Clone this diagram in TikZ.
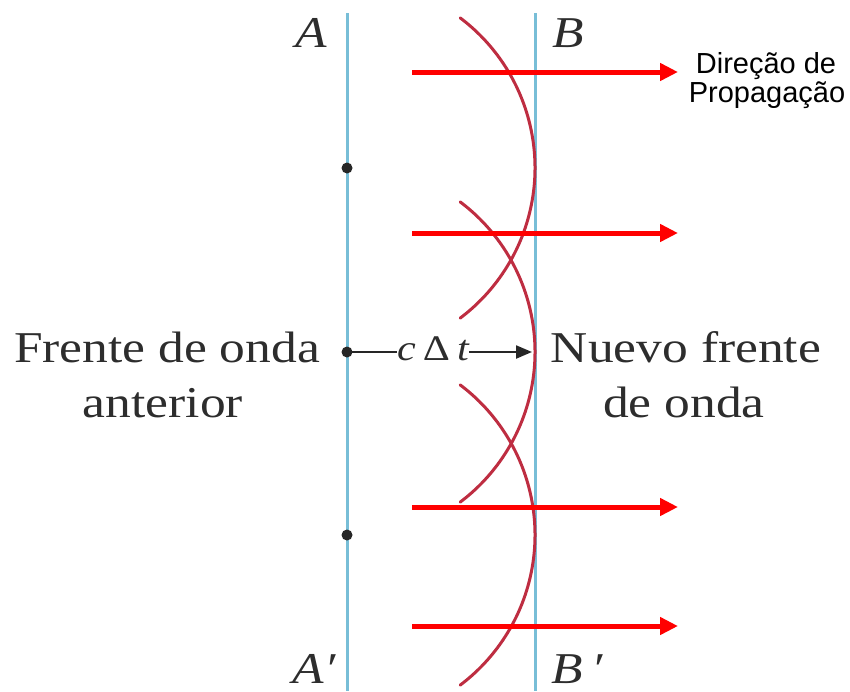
\documentclass[tikz,border=0pt]{standalone}
\usepackage{fontspec}
\usepackage{graphicx}
\setmainfont{Liberation Serif}
\newfontfamily\labsans{Liberation Sans}
\usetikzlibrary{arrows.meta}
\definecolor{frontblue}{RGB}{120,190,215}
\definecolor{arcred}{RGB}{190,45,65}
\definecolor{txtgray}{RGB}{45,45,45}
\newcommand{\widetxt}[1]{\scalebox{1.17}[1]{#1}}
\tikzset{
  front/.style={draw=frontblue,line width=3pt},
  wavelet/.style={draw=arcred,line width=3pt,line cap=round},
  proparrow/.style={draw=red,line width=5pt,-{Triangle[length=18pt,width=17pt]}},
  serif/.style={inner sep=0pt,anchor=base,text=txtgray,font=\fontsize{44}{50}\selectfont},
  letter/.style={inner sep=0pt,anchor=base,text=txtgray,font=\fontsize{44}{50}\selectfont\itshape},
  dotn/.style={circle,fill=black!85,inner sep=0pt,minimum size=11pt},
}
\begin{document}
\begin{tikzpicture}[x=1pt,y=-1pt]
\useasboundingbox (0,0) rectangle (850,691);
% wave fronts
\coordinate (Atop) at (347,13);
\coordinate (Abot) at (347,691);
\coordinate (Btop) at (535,13);
\coordinate (Bbot) at (535,691);
\draw[front] (Atop) -- (Abot);
\draw[front] (Btop) -- (Bbot);
% sources
\node[dotn] (d1) at (347,168) {};
\node[dotn] (d2) at (347,352) {};
\node[dotn] (d3) at (347,535) {};
% wavelets
\draw[wavelet] (d1.center) ++(-53:188) arc[start angle=-53,end angle=53,radius=188];
\draw[wavelet] (d2.center) ++(-53:188) arc[start angle=-53,end angle=53,radius=188];
\draw[wavelet] (d3.center) ++(-53:188) arc[start angle=-53,end angle=53,radius=188];
% propagation arrows
\coordinate (p1s) at (412,72);  \coordinate (p1e) at (678,72);
\coordinate (p2s) at (412,233); \coordinate (p2e) at (678,233);
\coordinate (p3s) at (412,507); \coordinate (p3e) at (678,507);
\coordinate (p4s) at (412,626); \coordinate (p4e) at (678,626);
\draw[proparrow] (p1s) -- (p1e);
\draw[proparrow] (p2s) -- (p2e);
\draw[proparrow] (p3s) -- (p3e);
\draw[proparrow] (p4s) -- (p4e);
% c Delta t
\node[inner sep=0pt,text=txtgray,font=\fontsize{36}{40}\selectfont] (ct) at (433,349) {\widetxt{\itshape c\,\upshape Δ\,\itshape t}};
\coordinate (ctend) at (532,352);
\draw[black!85,line width=2.2pt] (d2.center) -- (ct.west |- d2.center);
\draw[black!85,line width=2.2pt,-{Triangle[length=16pt,width=13pt]}] (ct.east |- d2.center) -- (ctend);
% letters
\node[letter] (lA) at (311,47) {\widetxt{A}};
\node[letter] (lB) at (568,47) {\widetxt{B}};
\node[letter] (lA2) at (314,683) {\widetxt{A′}};
\node[letter] (lB2) at (577,683) {\widetxt{B\,′}};
% labels
\node[serif] (f1) at (167,362) {\widetxt{Frente de onda}};
\node[serif] (f2) at (163,417) {\widetxt{anterior}};
\node[serif] (n1) at (686,362) {\widetxt{Nuevo frente}};
\node[serif] (n2) at (684,417) {\widetxt{de onda}};
\node[inner sep=0pt,anchor=base,font=\labsans\fontsize{29}{29}\selectfont] (dir1) at (766,73) {Direção de};
\node[inner sep=0pt,anchor=base,font=\labsans\fontsize{29}{29}\selectfont] (dir2) at (767,102) {Propagação};
\end{tikzpicture}
\end{document}
